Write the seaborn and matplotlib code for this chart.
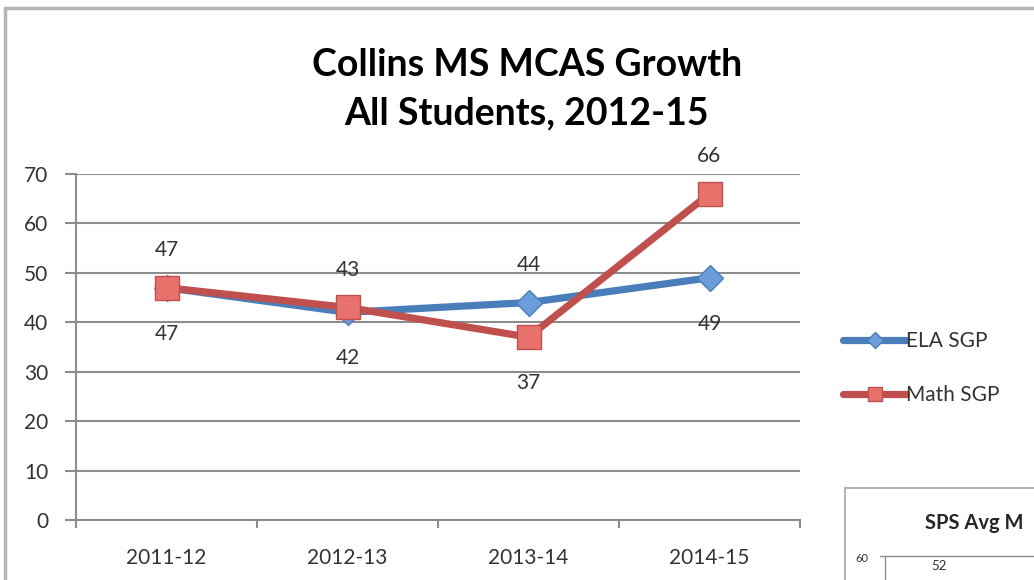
import pandas as pd
import numpy as np
import matplotlib.pyplot as plt
import seaborn as sns
from matplotlib.patches import Rectangle
from matplotlib.lines import Line2D

years = ['2011-12', '2012-13', '2013-14', '2014-15']
ela_sgp = [47, 42, 44, 49]
math_sgp = [47, 43, 37, 66]
# where each data label sits: +1 above the point, -1 below
ela_label_side = [-1, -1, 1, -1]
math_label_side = [1, 1, -1, 1]

df = pd.DataFrame({
    'year': years * 2,
    'x': list(range(len(years))) * 2,
    'sgp': ela_sgp + math_sgp,
    'series': ['ELA SGP'] * 4 + ['Math SGP'] * 4,
})

sns.set_style('white')
plt.rcParams['font.family'] = ['Lato', 'DejaVu Sans']

blue = '#4a7ebb'
red = '#c0504d'
txt = '#333333'
fs = 15

fig = plt.figure(figsize=(10.34, 5.8), dpi=100)
ax = fig.add_axes([76 / 1034, 1 - 520 / 580, 724 / 1034, 346 / 580])

sns.lineplot(data=df, x='x', y='sgp', hue='series', style='series',
             palette={'ELA SGP': blue, 'Math SGP': red},
             markers={'ELA SGP': 'D', 'Math SGP': 's'}, dashes=False,
             linewidth=5.2, markersize=14, legend=False, ax=ax)

for line, face in zip(ax.lines, ['#6c9ddb', '#e8716c']):
    line.set_markerfacecolor(face)
    line.set_markeredgecolor(line.get_color())
    line.set_markeredgewidth(1)
ax.lines[0].set_markersize(13.5)
ax.lines[1].set_markersize(17)

ax.set_xlim(-0.5, 3.5)
ax.set_ylim(0, 70)
ax.set_yticks(range(0, 71, 10))
ax.set_xticks(range(4))
ax.set_xticklabels(years)
ax.set_xlabel('')
ax.set_ylabel('')
ax.yaxis.grid(True, color='#8c8c8c', linewidth=1.5)
ax.set_axisbelow(True)
for side in ['top', 'right']:
    ax.spines[side].set_visible(False)
for side in ['left', 'bottom']:
    ax.spines[side].set_color('#8c8c8c')
    ax.spines[side].set_linewidth(1.5)
ax.tick_params(axis='y', left=True, length=8, width=1.5, color='#8c8c8c',
               labelsize=fs, labelcolor=txt, pad=12)
ax.tick_params(axis='x', bottom=False, labelsize=fs, labelcolor=txt, pad=17)
# category boundary ticks
ax.set_xticks(np.arange(-0.5, 4, 1), minor=True)
ax.tick_params(axis='x', which='minor', bottom=True, length=6, width=1.5, color='#8c8c8c')

for vals, sides in [(ela_sgp, ela_label_side), (math_sgp, math_label_side)]:
    for i, (v, s) in enumerate(zip(vals, sides)):
        ax.annotate(str(v), (i, v), xytext=(0, 27 if s > 0 else -33),
                    textcoords='offset points', ha='center', va='center',
                    fontsize=fs, color=txt)

fig.text(527 / 1034, 1 - 89 / 580, 'Collins MS MCAS Growth\nAll Students, 2012-15',
         ha='center', va='center', fontsize=27, fontweight='bold',
         linespacing=1.5, color='#000000')

handles = [Line2D([], [], color=blue, lw=5.2, marker='D', markersize=8,
                  markerfacecolor='#6c9ddb', markeredgecolor=blue),
           Line2D([], [], color=red, lw=5.2, marker='s', markersize=10,
                  markerfacecolor='#e8716c', markeredgecolor=red)]
fig.legend(handles, ['ELA SGP', 'Math SGP'], loc='center left',
           bbox_to_anchor=(835 / 1034, 1 - 368 / 580), frameon=False,
           fontsize=fs, handlelength=3.0, handletextpad=0.0,
           labelspacing=1.65, labelcolor=txt, borderaxespad=0)

# outer chart border
fig.add_artist(Rectangle((5 / 1034, -0.1), 1.2, 1 - 8 / 580 + 0.1,
                         transform=fig.transFigure, fill=False,
                         edgecolor='#b5b5b5', linewidth=2.5))

# neighbouring chart peeking in at the lower right
fig.add_artist(Rectangle((845 / 1034, -0.1), 0.5, 1 - 488 / 580 + 0.1,
                         transform=fig.transFigure, fill=True, facecolor='white',
                         edgecolor='#b5b5b5', linewidth=1.5))
fig.text(925 / 1034, 1 - 523 / 580, 'SPS Avg M', fontsize=14.5, fontweight='bold',
         va='center', ha='left')
fig.text(855 / 1034, 1 - 559 / 580, '60', fontsize=8, va='center', color=txt)
fig.text(931 / 1034, 1 - 566 / 580, '52', fontsize=9.5, va='center', color=txt)
fig.add_artist(Line2D([880 / 1034, 1.0], [1 - 556 / 580] * 2,
                      transform=fig.transFigure, color='#8c8c8c', lw=1))
fig.add_artist(Line2D([885 / 1034] * 2, [0, 1 - 556 / 580],
                      transform=fig.transFigure, color='#8c8c8c', lw=1))

fig.savefig('out.png', dpi=100, facecolor='white')
